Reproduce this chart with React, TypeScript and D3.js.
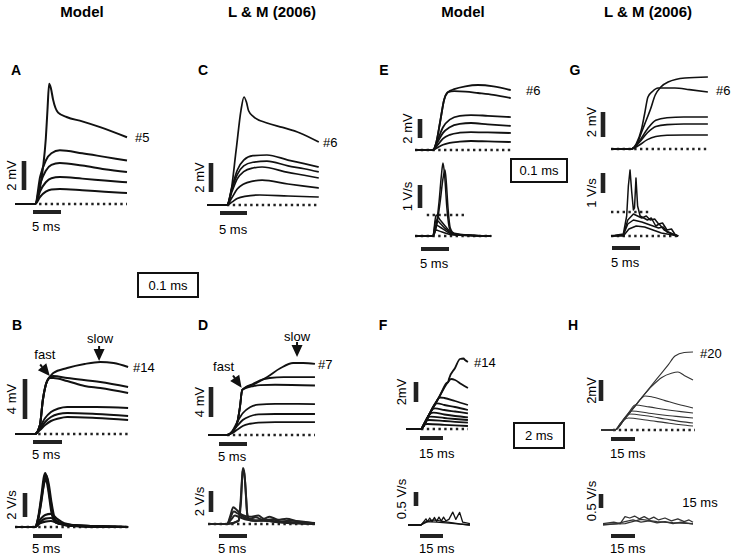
import * as d3 from "d3";

type Pt = [number, number];
type Trace = Pt[];

// ---- data, [time ms, value] (mV for Vm, V/s for dV/dt) ----

// A  model, 0.1 ms rise
const aVm: Trace[] = [
  [[0, 0], [3.6, 0], [4.4, 1.0], [5.0, 2.5], [5.5, 4.5], [5.8, 6.5], [6.1, 8.3], [6.4, 8.0], [6.8, 7.2], [7.7, 6.3], [9.2, 6.0], [12, 5.7], [15.2, 5.3], [20, 4.6]],
  [[0, 0], [3.6, 0], [4.5, 1.9], [5.5, 3.0], [6.5, 3.5], [8, 3.7], [12, 3.5], [16, 3.25], [20, 3.0]],
  [[0, 0], [3.6, 0], [4.5, 1.4], [5.5, 2.3], [6.5, 2.7], [8, 2.83], [12, 2.65], [16, 2.4], [20, 2.2]],
  [[0, 0], [3.6, 0], [4.5, 0.9], [5.5, 1.5], [6.5, 1.78], [8, 1.86], [12, 1.75], [16, 1.62], [20, 1.5]],
  [[0, 0], [3.6, 0], [4.5, 0.5], [5.5, 0.85], [6.5, 1.0], [8, 1.03], [12, 0.95], [16, 0.85], [20, 0.76]],
];

// C  L & M (2006), 0.1 ms
const cVm: Trace[] = [
  [[0, 0], [3.7, 0], [4.3, 0.6], [5.4, 3.8], [6.3, 6.55], [6.85, 7.45], [7.3, 7.1], [7.7, 6.5], [8.6, 6.1], [11.1, 5.66], [14, 5.35], [17.2, 4.97], [20.7, 4.34]],
  [[0, 0], [3.7, 0], [4.6, 1.2], [5.6, 2.4], [6.8, 3.1], [8.5, 3.4], [11.1, 3.45], [15, 3.1], [18, 2.85], [20.7, 2.62]],
  [[0, 0], [3.7, 0], [4.6, 1.1], [5.6, 2.1], [6.8, 2.7], [8.5, 2.95], [11.1, 3.03], [15, 2.7], [18, 2.5], [20.7, 2.28]],
  [[0, 0], [3.7, 0], [4.6, 0.9], [5.6, 1.8], [6.8, 2.3], [8.5, 2.55], [10.2, 2.62], [15, 2.25], [18, 2.05], [20.7, 1.86]],
  [[0, 0], [3.7, 0], [4.6, 0.5], [5.6, 1.1], [6.8, 1.45], [8.5, 1.65], [10.2, 1.72], [15, 1.45], [18, 1.3], [20.7, 1.17]],
  [[0, 0], [3.7, 0], [4.6, 0.2], [5.6, 0.45], [7, 0.6], [9.8, 0.69], [15, 0.62], [20.7, 0.55]],
];

// B  model, 0.1 ms, fast + slow components
const bVm: Trace[] = [
  [[0, 0], [3.45, 0], [4.3, 0.9], [4.8, 3.4], [5.3, 4.9], [6.0, 5.7], [6.6, 6.1], [9, 6.6], [12, 7.0], [14.7, 7.2], [17, 7.1], [19.5, 6.7]],
  [[0, 0], [3.45, 0], [4.3, 0.9], [4.8, 3.4], [5.3, 4.9], [6.0, 5.7], [6.6, 5.8], [9, 5.6], [14.7, 5.2], [19.5, 4.7]],
  [[0, 0], [3.45, 0], [4.3, 0.9], [4.8, 3.4], [5.3, 4.9], [6.0, 5.6], [6.6, 5.6], [9, 5.3], [12, 4.8], [14.7, 4.6], [19.5, 4.1]],
  [[0, 0], [3.45, 0], [4.3, 0.7], [5.2, 1.6], [6.2, 2.2], [7.5, 2.55], [9, 2.7], [14, 2.7], [19.5, 2.6]],
  [[0, 0], [3.45, 0], [4.3, 0.5], [5.2, 1.2], [6.2, 1.7], [7.5, 2.0], [9, 2.1], [14, 2.0], [19.5, 1.8]],
  [[0, 0], [3.45, 0], [4.3, 0.4], [5.2, 0.9], [6.2, 1.3], [7.5, 1.55], [9, 1.7], [14, 1.6], [19.5, 1.4]],
];
const bDvdt: Trace[] = [
  [[0, 0], [3.45, 0], [4.0, 0.8], [4.5, 2.4], [5.0, 4.2], [5.2, 4.5], [5.5, 4.1], [6.0, 2.5], [6.5, 1.0], [7, 0.4], [8, 0.25], [10, 0.15], [14, 0.05], [19.5, 0]],
  [[0, 0], [3.45, 0], [4.1, 0.9], [4.6, 2.5], [5.1, 3.9], [5.4, 4.3], [5.8, 3.6], [6.3, 2.0], [6.9, 0.6], [7.5, 0.3], [10, 0.12], [19.5, 0]],
  [[0, 0], [3.45, 0], [4.0, 0.7], [4.5, 2.0], [5.0, 3.6], [5.35, 4.0], [5.7, 3.2], [6.3, 1.2], [7, 0.4], [10, 0.1], [19.5, 0]],
  [[0, 0], [3.45, 0], [4.3, 0.6], [5.2, 1.0], [6.2, 1.1], [7.2, 0.7], [8.5, 0.3], [11, 0.1], [19.5, 0]],
  [[0, 0], [3.45, 0], [4.3, 0.4], [5.2, 0.7], [6.2, 0.75], [7.2, 0.5], [8.5, 0.2], [19.5, 0]],
  [[0, 0], [3.45, 0], [4.3, 0.3], [5.2, 0.45], [6.2, 0.5], [7.2, 0.35], [9, 0.12], [19.5, 0]],
];

// D  L & M (2006), 0.1 ms
const dVm: Trace[] = [
  [[0, 0], [3.4, 0], [4.3, 0.4], [5.2, 1.6], [5.7, 3.7], [6.1, 6.0], [6.6, 6.3], [8, 6.7], [10.5, 7.7], [12.9, 8.9], [15.2, 9.6], [17, 9.6], [19.1, 9.47]],
  [[0, 0], [3.4, 0], [4.3, 0.4], [5.2, 1.6], [5.7, 3.7], [6.1, 6.0], [6.6, 6.3], [8, 6.8], [9.3, 7.3], [11, 7.6], [13.5, 7.73], [19.1, 7.73]],
  [[0, 0], [3.4, 0], [4.3, 0.4], [5.2, 1.6], [5.7, 3.7], [6.1, 6.0], [6.6, 6.2], [8, 6.5], [9.3, 6.65], [12, 6.7], [19.1, 6.6]],
  [[0, 0], [3.4, 0], [4.3, 0.5], [5.2, 1.7], [6.2, 2.9], [7.5, 3.7], [9, 4.05], [12, 4.15], [19.1, 4.13]],
  [[0, 0], [3.4, 0], [4.3, 0.4], [5.2, 1.2], [6.2, 2.0], [7.5, 2.5], [9, 2.75], [12, 2.8], [19.1, 2.8]],
  [[0, 0], [3.4, 0], [4.3, 0.25], [5.2, 0.7], [6.2, 1.2], [7.5, 1.5], [9, 1.65], [12, 1.72], [19.1, 1.73]],
];
const dDvdt: Trace[] = [
  [[0, 0], [3.4, 0], [5.4, 0.3], [5.8, 2.0], [6.1, 4.5], [6.25, 5.33], [6.5, 4.8], [6.8, 2.5], [7.1, 0.5], [8, 0.3], [10, 0.35], [12, 0.25], [15, 0.15], [19.1, 0.05]],
  [[0, 0], [3.4, 0], [5.5, 0.3], [5.9, 2.2], [6.2, 5.0], [6.4, 5.1], [6.7, 3.5], [7.0, 1.0], [7.4, 0.4], [10, 0.3], [19.1, 0]],
  [[0, 0], [3.4, 0], [4.0, 0.8], [4.5, 1.6], [5.2, 1.3], [6, 0.9], [7.5, 0.7], [9, 0.8], [10, 0.5], [11, 0.7], [12.5, 0.4], [14, 0.5], [16, 0.25], [19.1, 0.1]],
  [[0, 0], [3.4, 0], [4.0, 0.6], [4.6, 1.2], [5.3, 1.0], [6.2, 0.7], [7.5, 0.5], [8.5, 0.65], [10, 0.35], [11.5, 0.45], [13, 0.25], [15, 0.3], [19.1, 0.05]],
  [[0, 0], [3.4, 0], [4.1, 0.4], [4.8, 0.8], [5.6, 0.65], [7, 0.4], [8.5, 0.3], [10, 0.35], [12, 0.2], [19.1, 0]],
];

// E  model, 0.1 ms rise
const eVm: Trace[] = [
  [[0, 0], [3.2, 0], [3.8, 0.8], [4.5, 3], [5.2, 5.3], [5.9, 6.1], [7, 6.4], [9, 6.7], [11.25, 6.84], [14, 6.7], [17.1, 6.3]],
  [[0, 0], [3.2, 0], [3.8, 0.8], [4.5, 3], [5.2, 5.3], [5.9, 6.1], [7, 6.2], [9, 6.15], [11.25, 6.0], [14, 5.8], [17.1, 5.47]],
  [[0, 0], [3.2, 0], [4.0, 1.0], [5.0, 2.4], [6.2, 3.2], [8, 3.6], [10, 3.68], [13, 3.6], [17.1, 3.47]],
  [[0, 0], [3.2, 0], [4.0, 0.8], [5.0, 1.8], [6.2, 2.4], [8, 2.75], [10, 2.84], [13, 2.7], [17.1, 2.53]],
  [[0, 0], [3.2, 0], [4.0, 0.5], [5.0, 1.2], [6.2, 1.6], [8, 1.82], [10, 1.89], [13, 1.85], [17.1, 1.79]],
  [[0, 0], [3.2, 0], [4.0, 0.25], [5.0, 0.55], [6.2, 0.75], [8, 0.88], [10, 0.95], [13, 0.9], [17.1, 0.84]],
];
const eDvdt: Trace[] = [
  [[0, 0], [3.2, 0], [3.8, 0.5], [4.3, 1.5], [4.7, 2.6], [5.0, 3.17], [5.3, 2.6], [5.7, 1.2], [6.2, 0.3], [7, 0.1], [10, 0.03], [13.6, 0]],
  [[0, 0], [3.2, 0], [3.9, 0.5], [4.5, 1.5], [5.0, 2.5], [5.36, 2.87], [5.6, 2.3], [5.9, 1.2], [6.3, 0.35], [7, 0.12], [10, 0.03], [13.6, 0]],
  [[0, 0], [3.2, 0], [3.75, 0.91], [4.5, 0.7], [5.5, 0.4], [6.5, 0.15], [8, 0.05], [13.6, 0]],
  [[0, 0], [3.2, 0], [3.75, 0.7], [4.5, 0.55], [5.5, 0.3], [6.5, 0.12], [8, 0.04], [13.6, 0]],
  [[0, 0], [3.2, 0], [3.75, 0.48], [4.5, 0.38], [5.5, 0.22], [6.5, 0.08], [8, 0.03], [13.6, 0]],
  [[0, 0], [3.2, 0], [3.75, 0.26], [4.5, 0.2], [5.5, 0.12], [6.5, 0.05], [13.6, 0]],
];

// G  L & M (2006), 0.1 ms
const gVm: Trace[] = [
  [[0, 0], [3.6, 0], [4.5, 0.3], [5.4, 1.28], [6.2, 2.2], [7.0, 3.12], [7.9, 4.32], [8.9, 4.96], [10.2, 5.36], [13.2, 5.68], [17.3, 5.76]],
  [[0, 0], [3.6, 0], [4.5, 0.4], [5.4, 1.5], [6.0, 2.8], [6.6, 4.16], [7.4, 4.6], [8.4, 4.88], [11.4, 4.88], [14, 4.75], [17.3, 4.56]],
  [[0, 0], [3.6, 0], [5, 0.6], [6.5, 1.6], [8, 2.3], [10, 2.5], [13, 2.56], [17.3, 2.56]],
  [[0, 0], [3.6, 0], [5, 0.5], [6.5, 1.3], [8, 1.8], [10, 1.95], [13, 2.0], [17.3, 2.0]],
  [[0, 0], [3.6, 0], [5, 0.3], [6.5, 0.75], [8, 1.0], [10, 1.1], [13, 1.12], [17.3, 1.12]],
];
const gDvdt: Trace[] = [
  [[0, 0], [2.2, 0.1], [2.8, 1.0], [3.1, 2.5], [3.4, 3.3], [3.7, 2.2], [4.0, 1.3], [4.2, 1.4], [4.46, 2.9], [4.75, 1.5], [5.2, 1.0], [6.5, 0.8], [7.2, 0.9], [8, 0.5], [8.6, 0.6], [9.5, 0.3], [11, 0.1], [12, 0]],
  [[0, 0], [2.2, 0.05], [3.0, 0.8], [4.0, 1.1], [5.5, 0.9], [6.3, 1.0], [7, 0.8], [7.8, 0.85], [8.5, 0.6], [9.2, 0.65], [10, 0.3], [10.8, 0.35], [11.5, 0.05], [12, 0]],
  [[0, 0], [2.2, 0.05], [3.0, 0.6], [4.0, 0.8], [5.5, 0.7], [7, 0.55], [8.5, 0.4], [9.3, 0.45], [10, 0.2], [12, 0]],
  [[0, 0], [2.2, 0], [3.2, 0.35], [4.5, 0.5], [6, 0.45], [7.5, 0.3], [9, 0.15], [12, 0]],
];

// F  model, 2 ms rise
const fVm: Trace[] = [
  [[0, 0], [9.8, 0], [15, 1.4], [22, 3.3], [26.5, 4.6], [27.5, 4.7], [28, 5.0], [32, 6.1], [35.2, 7.0], [37.5, 7.05], [38.5, 6.9], [40.4, 6.7]],
  [[0, 0], [9.8, 0], [15, 1.4], [22, 3.3], [27, 4.6], [29.4, 5.0], [32, 4.9], [36, 4.5], [40.4, 4.1]],
  [[0, 0], [9.8, 0], [15, 1.4], [20, 2.8], [22, 3.15], [25, 3.1], [32, 2.8], [40.4, 2.4]],
  [[0, 0], [9.8, 0], [15, 1.4], [18.5, 2.4], [20.5, 2.57], [25, 2.4], [32, 2.2], [40.4, 1.9]],
  [[0, 0], [9.8, 0], [15, 1.4], [17, 1.95], [19, 2.07], [25, 1.9], [32, 1.75], [40.4, 1.57]],
  [[0, 0], [9.8, 0], [13, 0.9], [15.5, 1.5], [18, 1.63], [25, 1.45], [32, 1.3], [40.4, 1.17]],
  [[0, 0], [9.8, 0], [12, 0.6], [14, 1.1], [16, 1.23], [25, 1.1], [32, 1.0], [40.4, 0.9]],
  [[0, 0], [9.8, 0], [11.5, 0.45], [13, 0.8], [15, 0.9], [25, 0.8], [32, 0.72], [40.4, 0.63]],
  [[0, 0], [9.8, 0], [11, 0.3], [12, 0.45], [14, 0.5], [25, 0.42], [32, 0.36], [40.4, 0.3]],
];
const fDvdt: Trace[] = [
  [[1.3, 0], [9.8, 0], [12, 0.15], [13, 0.22], [14, 0.12], [15.5, 0.25], [17, 0.12], [18.5, 0.27], [20, 0.13], [21.5, 0.28], [23, 0.14], [24.5, 0.28], [26, 0.15], [28, 0.2], [30.5, 0.46], [32.5, 0.2], [35, 0.45], [37, 0.1], [41.7, 0.05]],
  [[1.3, 0], [9.8, 0], [14, 0.12], [20, 0.1], [30, 0.06], [41.7, 0]],
  [[1.3, 0], [9.8, 0], [12, 0.1], [18, 0.18], [25, 0.12], [35, 0.04], [41.7, 0]],
];

// H  L & M (2006), 2 ms
const hVm: Trace[] = [
  [[0, 0], [8.75, 0], [15, 1.1], [25, 3.0], [35, 4.9], [42, 6.2], [46.25, 7.05], [52, 7.38], [57.5, 7.43]],
  [[0, 0], [8.75, 0], [15, 1.1], [25, 3.0], [32, 4.2], [38, 5.0], [44, 5.4], [48.1, 5.52], [52, 5.2], [57.5, 4.76]],
  [[0, 0], [8.75, 0], [15, 1.1], [22, 2.4], [25.5, 3.05], [27.5, 3.24], [32, 3.15], [40, 2.8], [48, 2.45], [57.5, 2.1]],
  [[0, 0], [8.75, 0], [14, 0.95], [18, 1.8], [21.25, 2.38], [30, 2.2], [40, 1.95], [50, 1.75], [57.5, 1.62]],
  [[0, 0], [8.75, 0], [13, 0.8], [16, 1.4], [19, 1.81], [30, 1.6], [40, 1.4], [50, 1.25], [57.5, 1.14]],
  [[0, 0], [8.75, 0], [12, 0.6], [15, 1.15], [18, 1.52], [28, 1.35], [40, 1.05], [50, 0.8], [57.5, 0.67]],
  [[0, 0], [8.75, 0], [11.5, 0.5], [14, 0.9], [17, 1.14], [28, 0.95], [40, 0.7], [50, 0.5], [57.5, 0.38]],
];
const hDvdt: Trace[] = [
  [[1.25, 0.05], [8, 0.1], [12, 0.05], [15, 0.3], [18, 0.25], [21, 0.32], [24, 0.22], [27, 0.3], [30, 0.2], [33, 0.28], [36, 0.18], [40, 0.25], [44, 0.15], [48, 0.22], [52, 0.12], [55, 0.18], [57.5, 0.1]],
  [[1.25, 0], [10, 0.05], [15, 0.12], [20, 0.18], [25, 0.1], [30, 0.15], [35, 0.08], [40, 0.12], [45, 0.05], [50, 0.1], [57.5, 0.03]],
  [[1.25, 0.02], [15, 0.05], [25, 0.2], [35, 0.12], [45, 0.08], [57.5, 0.05]],
];

const columnTitles = ["Model", "L & M (2006)", "Model", "L & M (2006)"];

// ---- layout ----

const FONT = "'Liberation Sans', Arial, Helvetica, sans-serif";

interface Arrow { label: string; t: number; v: number; rot: number; dx: number; dy: number }
interface SubCfg {
  traces: Trace[];
  left: number; msPx: number; tMax: number;
  base: number; unitPx: number;
  color: string; width: number; sharp?: boolean;
  dots: [number, number, number][]; // [t0, t1, v]
  vBar: { x: number; bottom: number; len: number; label: string; labelX: number; labelY?: number };
  hBar: { x: number; y: number; len: number; label: string; labelY: number };
  tag?: { text: string; x: number; y: number };
  arrows?: Arrow[];
}

const subs: SubCfg[] = [
  { traces: aVm, left: 15, msPx: 5.6, tMax: 20, base: 204, unitPx: 14.5, color: "#111", width: 2,
    dots: [[4.3, 20, 0]], vBar: { x: 24, bottom: 190, len: 2, label: "2 mV", labelX: 11 },
    hBar: { x: 33, y: 212, len: 5, label: "5 ms", labelY: 226 }, tag: { text: "#5", x: 135, y: 137 } },
  { traces: cVm, left: 207, msPx: 5.4, tMax: 20.7, base: 205, unitPx: 14.5, color: "#111", width: 1.7,
    dots: [[3.7, 20.7, 0]], vBar: { x: 211, bottom: 192, len: 2, label: "2 mV", labelX: 199 },
    hBar: { x: 220, y: 213, len: 5, label: "5 ms", labelY: 229 }, tag: { text: "#6", x: 323, y: 142 } },
  { traces: bVm, left: 15, msPx: 5.8, tMax: 19.5, base: 434, unitPx: 10, color: "#111", width: 2,
    dots: [[4.0, 19.5, 0]], vBar: { x: 25, bottom: 419, len: 4, label: "4 mV", labelX: 11 },
    hBar: { x: 33, y: 442, len: 5, label: "5 ms", labelY: 454 }, tag: { text: "#14", x: 133, y: 367 },
    arrows: [
      { label: "fast", t: 6.0, v: 5.8, rot: -40, dx: -5, dy: -22 },
      { label: "slow", t: 14.5, v: 7.3, rot: 0, dx: 1, dy: -23 },
    ] },
  { traces: bDvdt, left: 15, msPx: 5.8, tMax: 19.5, base: 527, unitPx: 12, color: "#111", width: 2.2,
    dots: [[0, 19.5, 0]], vBar: { x: 25, bottom: 517, len: 2, label: "2 V/s", labelX: 11 },
    hBar: { x: 33, y: 536, len: 5, label: "5 ms", labelY: 548 } },
  { traces: dVm, left: 208, msPx: 5.6, tMax: 19.1, base: 435, unitPx: 7.5, color: "#111", width: 1.8,
    dots: [[3.4, 19.1, 0]], vBar: { x: 211, bottom: 417, len: 4, label: "4 mV", labelX: 199 },
    hBar: { x: 219, y: 444, len: 5, label: "5 ms", labelY: 456 }, tag: { text: "#7", x: 318, y: 364 },
    arrows: [
      { label: "fast", t: 6.0, v: 6.3, rot: -35, dx: -18, dy: -21 },
      { label: "slow", t: 15.9, v: 10.4, rot: 0, dx: 0, dy: -21 },
    ] },
  { traces: dDvdt, left: 208, msPx: 5.6, tMax: 19.1, base: 524, unitPx: 10.5, color: "#222", width: 2,
    dots: [[0, 19.1, 0]], vBar: { x: 211, bottom: 512, len: 2, label: "2 V/s", labelX: 199 },
    hBar: { x: 219, y: 536, len: 5, label: "5 ms", labelY: 548 } },
  { traces: eVm, left: 415, msPx: 5.6, tMax: 17.1, base: 150, unitPx: 9.5, color: "#111", width: 1.8,
    dots: [[0, 17.1, 0]], vBar: { x: 420, bottom: 138, len: 2, label: "2 mV", labelX: 407 },
    hBar: { x: 421, y: 249, len: 5, label: "5 ms", labelY: 263 }, tag: { text: "#6", x: 526, y: 90 } },
  { traces: eDvdt, left: 415, msPx: 5.6, tMax: 13.6, base: 236, unitPx: 23, color: "#111", width: 1.5,
    dots: [[0, 13.6, 0], [2.1, 8.9, 0.91]], vBar: { x: 420, bottom: 208, len: 1, label: "1 V/s", labelX: 407 },
    hBar: { x: 421, y: 249, len: 5, label: "", labelY: 263 } },
  { traces: gVm, left: 611, msPx: 5.6, tMax: 17.3, base: 149, unitPx: 12.5, color: "#111", width: 1.6,
    dots: [[0, 17.3, 0]], vBar: { x: 603, bottom: 137, len: 2, label: "2 mV", labelX: 591, labelY: 122 },
    hBar: { x: 612, y: 248, len: 5, label: "5 ms", labelY: 262 }, tag: { text: "#6", x: 716, y: 90 } },
  { traces: gDvdt, left: 611, msPx: 5.6, tMax: 12, base: 236, unitPx: 20, color: "#111", width: 1.5, sharp: true,
    dots: [[0, 12, 0], [0, 7, 1.2]], vBar: { x: 603, bottom: 193, len: 1, label: "1 V/s", labelX: 591, labelY: 193 },
    hBar: { x: 612, y: 248, len: 5, label: "", labelY: 262 } },
  { traces: fVm, left: 406, msPx: 1.533, tMax: 40.4, base: 429, unitPx: 10, color: "#111", width: 1.8,
    dots: [[9.8, 40.4, 0]], vBar: { x: 416, bottom: 402, len: 2, label: "2mV", labelX: 401 },
    hBar: { x: 420, y: 438, len: 15, label: "15 ms", labelY: 453 }, tag: { text: "#14", x: 474, y: 362 } },
  { traces: fDvdt, left: 406, msPx: 1.533, tMax: 41.7, base: 525, unitPx: 28, color: "#111", width: 1.3, sharp: true,
    dots: [], vBar: { x: 416, bottom: 506, len: 0.5, label: "0.5 V/s", labelX: 401 },
    hBar: { x: 420, y: 536, len: 15, label: "15 ms", labelY: 548 } },
  { traces: hVm, left: 601, msPx: 1.6, tMax: 57.5, base: 430, unitPx: 10.5, color: "#333", width: 1.1,
    dots: [[7.5, 58.75, 0]], vBar: { x: 601, bottom: 401, len: 2, label: "2mV", labelX: 591 },
    hBar: { x: 611, y: 439, len: 15, label: "15 ms", labelY: 453 }, tag: { text: "#20", x: 700, y: 353 } },
  { traces: hDvdt, left: 601, msPx: 1.6, tMax: 57.5, base: 525, unitPx: 28, color: "#333", width: 1.3, sharp: true,
    dots: [], vBar: { x: 601, bottom: 508, len: 0.5, label: "0.5 V/s", labelX: 591 },
    hBar: { x: 611, y: 536, len: 15, label: "15 ms", labelY: 548 } },
];

const panelLetters: [string, number, number][] = [
  ["A", 16, 70], ["C", 203, 70], ["E", 384, 70], ["G", 575, 70],
  ["B", 17, 325], ["D", 203, 325], ["F", 383, 325], ["H", 573, 325],
];
const titleX = [82, 272, 463, 648];
const boxes: [string, number, number, number, number][] = [
  ["0.1 ms", 138, 273, 60, 24],
  ["0.1 ms", 511, 159, 56, 23],
  ["2 ms", 514, 423, 50, 25],
];

function SubPanel({ s }: { s: SubCfg }) {
  const x = d3.scaleLinear().domain([0, s.tMax]).range([s.left, s.left + s.tMax * s.msPx]);
  const y = d3.scaleLinear().domain([0, 10]).range([s.base, s.base - 10 * s.unitPx]);
  const line = d3
    .line<Pt>()
    .x((d) => x(d[0]))
    .y((d) => y(d[1]))
    .curve(s.sharp ? d3.curveLinear : d3.curveMonotoneX);
  const barH = y(0) - y(s.vBar.len);
  const barW = x(s.hBar.len) - x(0);
  return (
    <g>
      {s.dots.map(([t0, t1, v], i) => (
        <line key={i} x1={x(t0)} x2={x(t1)} y1={y(v)} y2={y(v)} stroke="#222" strokeWidth={2.4} strokeDasharray="2.4 3.4" />
      ))}
      {s.traces.map((tr, i) => (
        <path key={i} d={line(tr) ?? ""} fill="none" stroke={s.color} strokeWidth={s.width} strokeLinejoin="round" />
      ))}
      <rect x={s.vBar.x - 2.3} y={s.vBar.bottom - barH} width={4.6} height={barH} fill="#222" />
      <text
        transform={`translate(${s.vBar.labelX},${s.vBar.labelY ?? s.vBar.bottom - barH / 2}) rotate(-90)`}
        textAnchor="middle"
        dominantBaseline="central"
        fontSize={13}
      >
        {s.vBar.label}
      </text>
      <rect x={s.hBar.x} y={s.hBar.y - 2} width={barW} height={4} fill="#222" />
      {s.hBar.label && (
        <text x={s.hBar.x - 1} y={s.hBar.labelY} dominantBaseline="central" fontSize={13}>
          {s.hBar.label}
        </text>
      )}
      {s.tag && (
        <text x={s.tag.x} y={s.tag.y} dominantBaseline="central" fontSize={13}>
          {s.tag.text}
        </text>
      )}
      {s.arrows?.map((a, i) => {
        const tx = x(a.t);
        const ty = y(a.v);
        return (
          <g key={i}>
            <path
              d="M0,0 L-5.5,-12 L5.5,-12 Z M-1,-12 L1,-12 L1,-15 L-1,-15 Z"
              fill="#111"
              transform={`translate(${tx},${ty}) rotate(${a.rot})`}
            />
            <text x={tx + a.dx} y={ty + a.dy} textAnchor="middle" dominantBaseline="central" fontSize={13}>
              {a.label}
            </text>
          </g>
        );
      })}
    </g>
  );
}

export default function App() {
  return (
    <div style={{ position: "absolute", left: 0, top: 0, background: "#fff" }}>
      <svg width={736} height={558} fontFamily={FONT} style={{ display: "block" }}>
        <rect width={736} height={558} fill="#fff" />
        {columnTitles.map((t, i) => (
          <text key={i} x={titleX[i]} y={11} textAnchor="middle" dominantBaseline="central" fontSize={15} fontWeight="bold">
            {t}
          </text>
        ))}
        {panelLetters.map(([l, px, py]) => (
          <text key={l} x={px} y={py} textAnchor="middle" dominantBaseline="central" fontSize={14} fontWeight="bold">
            {l}
          </text>
        ))}
        {boxes.map(([label, bx, by, bw, bh], i) => (
          <g key={i}>
            <rect x={bx} y={by} width={bw} height={bh} fill="none" stroke="#111" strokeWidth={2} />
            <text x={bx + bw / 2} y={by + bh / 2} textAnchor="middle" dominantBaseline="central" fontSize={13}>
              {label}
            </text>
          </g>
        ))}
        <text x={700} y={502} textAnchor="middle" dominantBaseline="central" fontSize={13}>
          15 ms
        </text>
        {subs.map((s, i) => (
          <SubPanel key={i} s={s} />
        ))}
      </svg>
    </div>
  );
}
